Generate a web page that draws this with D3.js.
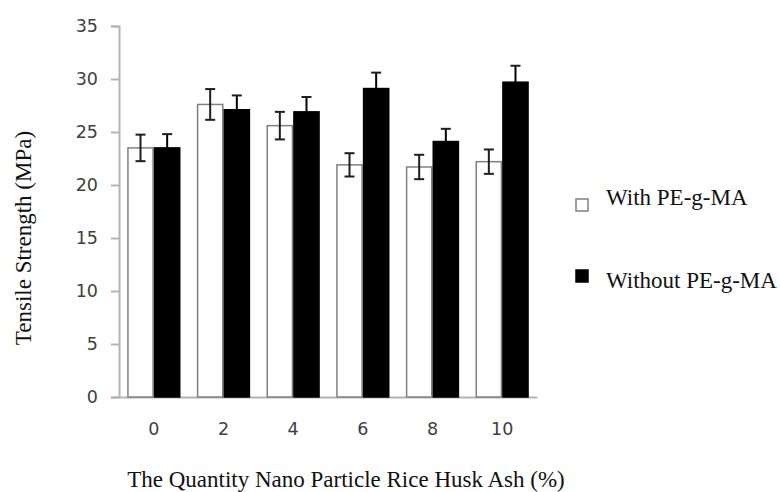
<!DOCTYPE html>
<html>
<head>
<meta charset="utf-8">
<script src="https://cdn.jsdelivr.net/npm/d3@7"></script>
<style>
  html, body { margin: 0; padding: 0; background: #fff; }
  svg { display: block; }
</style>
</head>
<body>
<svg id="chart" width="780" height="492"></svg>
<script>
const categories = ["0", "2", "4", "6", "8", "10"];
const seriesNames = ["With PE-g-MA", "Without PE-g-MA"];
const withValues = [23.5, 27.6, 25.6, 21.9, 21.7, 22.2];
const withErrors = [1.25, 1.45, 1.3, 1.1, 1.15, 1.15];
const withoutValues = [23.5, 27.1, 26.9, 29.1, 24.1, 29.7];
const withoutErrors = [1.3, 1.35, 1.4, 1.5, 1.2, 1.55];
const yTicks = [0, 5, 10, 15, 20, 25, 30, 35];
const xTitle = "The Quantity Nano Particle Rice Husk Ash (%)";
const yTitle = "Tensile Strength (MPa)";

const svg = d3.select("#chart");
const plotLeft = 119, plotRight = 537, plotTop = 26, plotBottom = 397;

const x = d3.scaleBand().domain(categories).range([plotLeft, plotRight])
  .paddingInner(0.235).paddingOuter(0.1175);
const xSub = d3.scaleBand().domain(seriesNames).range([0, x.bandwidth()]);
const y = d3.scaleLinear().domain([0, 35]).range([plotBottom, plotTop]);

const series = [
  { name: seriesNames[0], values: withValues, errors: withErrors, fill: "#ffffff", stroke: "#808080" },
  { name: seriesNames[1], values: withoutValues, errors: withoutErrors, fill: "#000000", stroke: "#000000" }
];

const tickFont = "'DejaVu Sans', 'Open Sans', sans-serif";

// Y axis
const yAxis = d3.axisLeft(y).tickValues(yTicks).tickSize(8).tickPadding(13);
const gy = svg.append("g").attr("transform", `translate(${plotLeft},0)`).call(yAxis);
gy.select(".domain").attr("stroke", "#b4b4b4").attr("stroke-width", 2);
gy.selectAll(".tick line").attr("stroke", "#b4b4b4").attr("stroke-width", 2);
gy.selectAll(".tick text").attr("fill", "#404040")
  .style("font-family", tickFont).style("font-size", "17.5px");

// X axis
const xAxis = d3.axisBottom(x).tickSize(0).tickPadding(25.5);
const gx = svg.append("g").attr("transform", `translate(0,${plotBottom})`).call(xAxis);
gx.select(".domain").attr("stroke", "#b4b4b4").attr("stroke-width", 2);
gx.selectAll(".tick text").attr("fill", "#404040")
  .style("font-family", tickFont).style("font-size", "17.5px");

// Bars
series.forEach(s => {
  const g = svg.append("g");
  g.selectAll("rect").data(categories).join("rect")
    .attr("x", (c) => x(c) + xSub(s.name) + 0.75)
    .attr("y", (c, i) => y(s.values[i]))
    .attr("width", xSub.bandwidth() - 1.5)
    .attr("height", (c, i) => y(0) - y(s.values[i]))
    .attr("fill", s.fill)
    .attr("stroke", s.stroke)
    .attr("stroke-width", 1.5);
});

// Error bars
series.forEach(s => {
  const g = svg.append("g").attr("stroke", "#1e1e1e").attr("stroke-width", 2).attr("fill", "none");
  categories.forEach((c, i) => {
    const cx = x(c) + xSub(s.name) + xSub.bandwidth() / 2;
    const hi = y(s.values[i] + s.errors[i]);
    const lo = y(s.values[i] - s.errors[i]);
    const isDark = s.fill === "#000000";
    g.append("line").attr("x1", cx).attr("x2", cx).attr("y1", hi).attr("y2", lo)
      .attr("stroke", isDark ? "#000000" : "#1e1e1e");
    g.append("line").attr("x1", cx - 5).attr("x2", cx + 5).attr("y1", hi).attr("y2", hi);
    if (!isDark) {
      g.append("line").attr("x1", cx - 5).attr("x2", cx + 5).attr("y1", lo).attr("y2", lo);
    }
  });
});

// Axis titles
const serif = "'Liberation Serif', 'Times New Roman', serif";
svg.append("text")
  .attr("x", 346).attr("y", 487)
  .attr("text-anchor", "middle")
  .style("font-family", serif).style("font-size", "23px").attr("fill", "#111")
  .text(xTitle);

svg.append("text")
  .attr("transform", "translate(31,238) rotate(-90)")
  .attr("text-anchor", "middle")
  .style("font-family", serif).style("font-size", "23px").attr("fill", "#111")
  .text(yTitle);

// Legend
const legendRows = [
  { s: series[0], boxY: 199, textY: 205 },
  { s: series[1], boxY: 270, textY: 288 }
];
legendRows.forEach(r => {
  svg.append("rect").attr("x", 576).attr("y", r.boxY).attr("width", 12).attr("height", 12)
    .attr("fill", r.s.fill).attr("stroke", r.s.fill === "#000000" ? "#000" : "#808080").attr("stroke-width", 1.5);
  svg.append("text").attr("x", 606).attr("y", r.textY)
    .style("font-family", serif).style("font-size", "23px").attr("fill", "#111")
    .text(r.s.name);
});
</script>
</body>
</html>
